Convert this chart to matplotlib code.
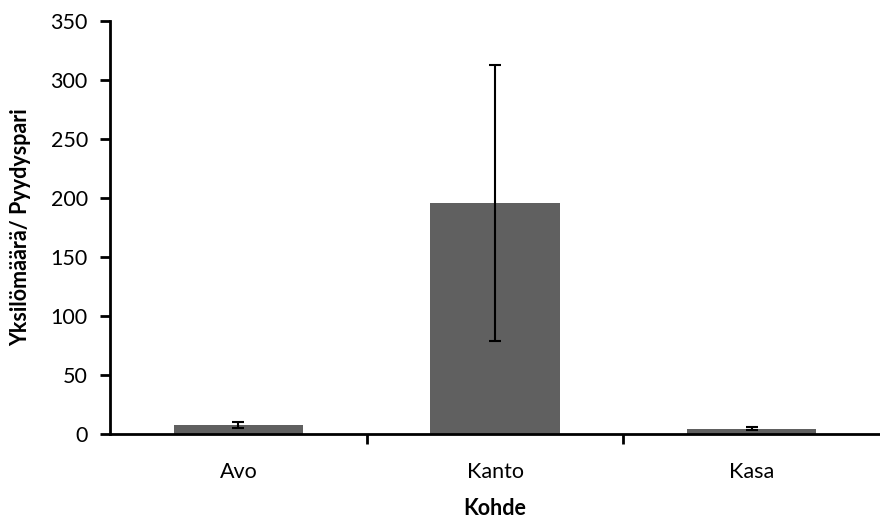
import matplotlib
matplotlib.use('Agg')
from matplotlib import pyplot as plt

# Kohteet ja keskiarvot
kohteet = ['Avo', 'Kanto', 'Kasa']
keskiarvo = [7.6, 195.5, 4.6]
virhe = [2.8, 117, 1.3]

plt.rcParams['font.family'] = ['Lato', 'DejaVu Sans']

fig = plt.figure(figsize=(8.8, 5.22), dpi=100)
ax = fig.add_axes([0.125, 0.1686, 0.875, 0.7912])

x = range(len(kohteet))
ax.bar(x, keskiarvo, width=0.505, color='#606060', zorder=2)
ax.errorbar(x, keskiarvo, yerr=virhe, fmt='none', ecolor='black',
            elinewidth=1.5, capsize=4.5, capthick=1.5, zorder=3)

ax.set_xlim(-0.5, 2.5)
ax.set_ylim(0, 350)
ax.set_yticks(range(0, 351, 50))
ax.set_xticks(x)
ax.set_xticklabels(kohteet)
ax.set_xticks([0.5, 1.5], minor=True)

for s in ['top', 'right']:
    ax.spines[s].set_visible(False)
for s in ['left', 'bottom']:
    ax.spines[s].set_linewidth(2)

ax.tick_params(axis='y', direction='out', length=7, width=2, labelsize=15.5, pad=9)
ax.tick_params(axis='x', which='major', length=0, labelsize=15.5, pad=20)
ax.tick_params(axis='x', which='minor', direction='out', length=7, width=2)

ax.set_xlabel('Kohde', fontsize=15.5, fontweight='bold', labelpad=12)
ax.set_ylabel('Yksilömäärä/ Pyydyspari', fontsize=15.5, fontweight='bold', labelpad=14)

plt.savefig('out.png', dpi=100)
